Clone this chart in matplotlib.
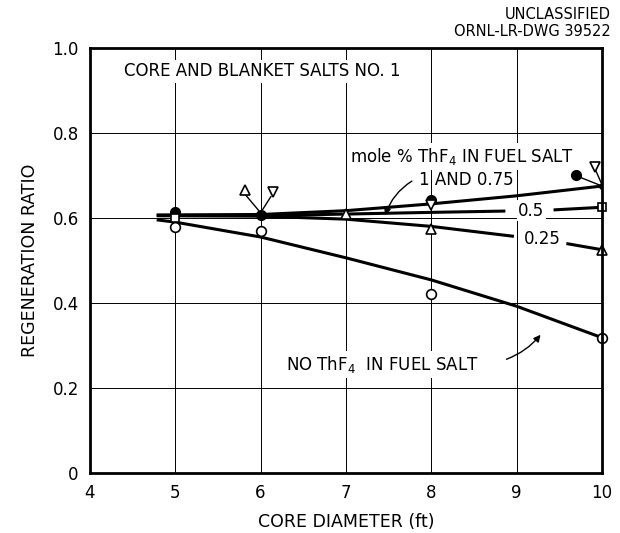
import numpy as np
import matplotlib.pyplot as plt

# curves
x_hi = [4.8, 6, 7, 8, 9, 10]
y_hi = [0.607, 0.608, 0.617, 0.633, 0.652, 0.675]   # 1 and 0.75 mole %
x_half = [6, 7, 8, 8.85, 9.45, 10]
y_half = [0.605, 0.609, 0.613, 0.616, 0.619, 0.625]  # 0.5 mole %
x_quar = [4.8, 6, 7, 8, 8.95, 9.6, 10]
y_quar = [0.605, 0.604, 0.597, 0.58, 0.557, 0.539, 0.525]   # 0.25 mole %
x_none = [4.8, 5, 6, 7, 8, 9, 10]
y_none = [0.595, 0.59, 0.555, 0.506, 0.454, 0.392, 0.318]  # no ThF4

# measured points
fill_x = [5, 6, 8, 9.7]
fill_y = [0.613, 0.607, 0.642, 0.70]
open_x = [5, 6, 8, 10]
open_y = [0.578, 0.568, 0.42, 0.318]
tri_x = [5.82, 7, 8, 10]
tri_y = [0.665, 0.61, 0.575, 0.525]
dtri_x = [6.14, 8, 9.92]
dtri_y = [0.66, 0.63, 0.72]
sq_x = [5, 10]
sq_y = [0.60, 0.625]

fig = plt.figure(figsize=(6.2, 5.33), dpi=100)
ax = fig.add_axes([0.145, 0.113, 0.826, 0.797])
ax.set_xlim(4, 10)
ax.set_ylim(0, 1.0)
ax.set_xticks([4, 5, 6, 7, 8, 9, 10])
ax.set_yticks([0, 0.2, 0.4, 0.6, 0.8, 1.0])
ax.set_yticklabels(["0", "0.2", "0.4", "0.6", "0.8", "1.0"])
ax.grid(True, color='black', linewidth=0.7)
ax.tick_params(length=0, labelsize=12, pad=8)
for s in ax.spines.values():
    s.set_linewidth(2)

lw = 2.2
ax.plot(x_hi, y_hi, color='black', linewidth=lw)
ax.plot(x_none, y_none, color='black', linewidth=lw)
# 0.5 and 0.25 curves with gaps for their labels
ax.plot(x_half[:4], y_half[:4], color='black', linewidth=lw)
ax.plot(x_half[4:], y_half[4:], color='black', linewidth=lw)
ax.plot(x_quar[:5], y_quar[:5], color='black', linewidth=lw)
ax.plot(x_quar[5:], y_quar[5:], color='black', linewidth=lw)

# leader lines from displaced points
ax.plot([5.82, 6], [0.655, 0.612], color='black', linewidth=1)
ax.plot([6.12, 6], [0.65, 0.612], color='black', linewidth=1)
ax.plot([9.75, 10], [0.695, 0.675], color='black', linewidth=1)
ax.plot([9.93, 10], [0.71, 0.678], color='black', linewidth=1)
ax.plot([6, 10], [0.61, 0.675], 'o', color='black', markersize=4)

ms = 7
ax.plot(fill_x, fill_y, 'o', color='black', markersize=ms, clip_on=False)
ax.plot(open_x, open_y, 'o', mfc='white', mec='black', mew=1.2, markersize=ms, clip_on=False)
ax.plot(tri_x, tri_y, '^', mfc='white', mec='black', mew=1.2, markersize=ms, clip_on=False)
ax.plot(dtri_x, dtri_y, 'v', mfc='white', mec='black', mew=1.2, markersize=ms, clip_on=False)
ax.plot(sq_x, sq_y, 's', mfc='white', mec='black', mew=1.2, markersize=6, clip_on=False)

ax.set_xlabel("CORE DIAMETER (ft)", fontsize=12.5, labelpad=8)
ax.set_ylabel("REGENERATION RATIO", fontsize=12.5, labelpad=10)

fs = 12
ax.text(4.4, 0.945, "CORE AND BLANKET SALTS NO. 1", fontsize=fs, va='center',
        bbox=dict(facecolor='white', edgecolor='none', pad=2))
ax.text(7.05, 0.745, "mole % ThF$_4$ IN FUEL SALT", fontsize=fs, va='center',
        bbox=dict(facecolor='white', edgecolor='none', pad=2))
ax.text(7.85, 0.69, "1 AND 0.75", fontsize=fs, va='center')
ax.text(9.02, 0.617, "0.5", fontsize=fs, va='center',
        bbox=dict(facecolor='white', edgecolor='none', pad=1))
ax.text(9.08, 0.551, "0.25", fontsize=fs, va='center',
        bbox=dict(facecolor='white', edgecolor='none', pad=1))
ax.text(6.3, 0.255, "NO ThF$_4$  IN FUEL SALT", fontsize=fs, va='center',
        bbox=dict(facecolor='white', edgecolor='none', pad=2))

ax.annotate("", xy=(7.45, 0.6), xytext=(7.8, 0.69),
            arrowprops=dict(arrowstyle='-|>', color='black', lw=1,
                            connectionstyle='arc3,rad=0.2'))
ax.annotate("", xy=(9.3, 0.33), xytext=(8.85, 0.265),
            arrowprops=dict(arrowstyle='-|>', color='black', lw=1,
                            connectionstyle='arc3,rad=0.15'))

fig.text(0.985, 0.972, "UNCLASSIFIED", ha='right', va='center', fontsize=10.5)
fig.text(0.985, 0.94, "ORNL-LR-DWG 39522", ha='right', va='center', fontsize=10.5)

fig.savefig("out.png", dpi=100)
